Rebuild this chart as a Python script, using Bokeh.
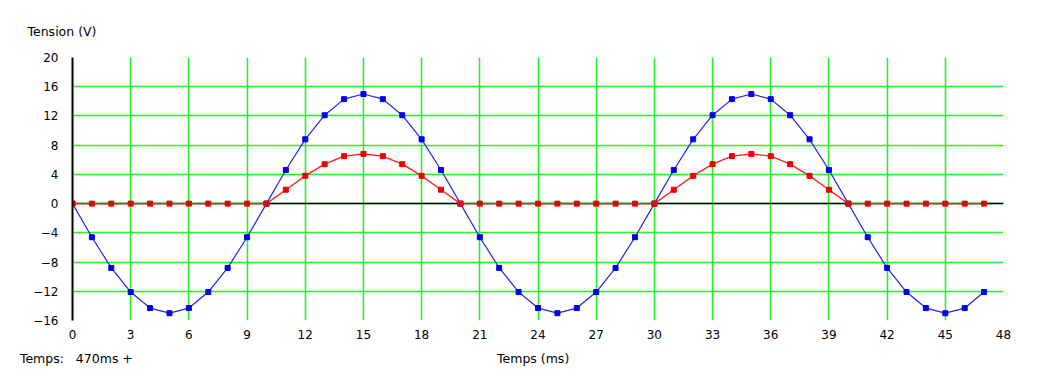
from bokeh.plotting import figure
from bokeh.models import Range1d, FixedTicker, Span, LinearAxis
from bokeh.embed import file_html
from bokeh.resources import INLINE

t_ms = list(range(48))
blue_v = [0, -4.6, -8.8, -12.1, -14.3, -15, -14.3, -12.1, -8.8, -4.6,
          0, 4.6, 8.8, 12.1, 14.3, 15, 14.3, 12.1, 8.8, 4.6,
          0, -4.6, -8.8, -12.1, -14.3, -15, -14.3, -12.1, -8.8, -4.6,
          0, 4.6, 8.8, 12.1, 14.3, 15, 14.3, 12.1, 8.8, 4.6,
          0, -4.6, -8.8, -12.1, -14.3, -15, -14.3, -12.1]
red_v = [0] * 11 + [1.9, 3.8, 5.4, 6.5, 6.8, 6.5, 5.4, 3.8, 1.9] + \
        [0] * 11 + [1.9, 3.8, 5.4, 6.5, 6.8, 6.5, 5.4, 3.8, 1.9] + [0] * 8
x_ticks = list(range(0, 49, 3))
y_ticks = list(range(-16, 21, 4))

FONT = "DejaVu Sans"
GREEN = "#2aee2a"
NB = "\u00a0"

p = figure(width=1029, height=374, output_backend="svg", toolbar_location=None,
           x_range=Range1d(0, 48), y_range=Range1d(-16, 20),
           min_border_left=72, min_border_right=26, min_border_top=57,
           min_border_bottom=54)
p.outline_line_color = None
p.background_fill_color = "white"
p.border_fill_color = "white"

p.title.text = "Tension (V)"
p.title.align = "left"
p.title.offset = -45
p.title.text_font = FONT
p.title.text_font_size = "12.5px"
p.title.text_font_style = "normal"
p.title.text_color = "black"
p.title.standoff = 38

p.xaxis.ticker = FixedTicker(ticks=x_ticks)
p.yaxis.ticker = FixedTicker(ticks=y_ticks)
for ax in (p.xaxis, p.yaxis):
    ax.major_tick_out = 0
    ax.major_tick_in = 0
    ax.minor_tick_out = 0
    ax.minor_tick_in = 0
    ax.major_label_text_font = FONT
    ax.major_label_text_font_size = "12px"
    ax.major_label_text_color = "black"
p.xaxis.axis_line_color = None
p.yaxis.axis_line_color = "black"
p.yaxis.axis_line_width = 2
p.yaxis.major_label_standoff = 14
p.xaxis.major_label_standoff = 9

# second row below the numbers: "Temps: 470ms +" at left, "Temps (ms)" centred
text_ticks = [0.2, 23.75]
ax2 = LinearAxis(ticker=FixedTicker(ticks=text_ticks),
                 major_label_overrides={0.2: "Temps:" + NB * 3 + "470ms" + NB + "+",
                                        23.75: "Temps" + NB + "(ms)"},
                 axis_line_color=None, major_tick_out=0, major_tick_in=0,
                 minor_tick_out=0, minor_tick_in=0,
                 major_label_text_font=FONT, major_label_text_font_size="12.5px",
                 major_label_text_color="black", major_label_standoff=9)
p.add_layout(ax2, "below")

p.xgrid.ticker = FixedTicker(ticks=x_ticks)
p.ygrid.ticker = FixedTicker(ticks=y_ticks)
for g in (p.xgrid, p.ygrid):
    g.grid_line_color = GREEN
    g.grid_line_width = 1.6

p.add_layout(Span(location=0, dimension="width", line_color="black",
                  line_width=1.5, level="underlay"))

p.line(t_ms, blue_v, line_color="#2222ee", line_width=1.2)
p.scatter(t_ms, blue_v, marker="square", size=5, fill_color="#0000ee",
          line_color="#0000ee")
p.line(t_ms, red_v, line_color="#ff2222", line_width=1.4)
p.scatter(t_ms, red_v, marker="square", size=5, fill_color="#ee0000",
          line_color="#ee0000")

open("out.html", "w").write(file_html(p, INLINE))
